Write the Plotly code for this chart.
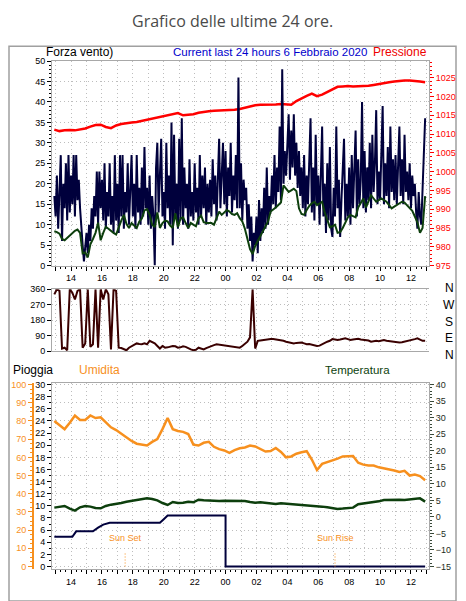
import pandas as pd
import plotly.graph_objects as go

W, H = 466, 601


def px(x):
    return x / W


def py(y):
    return 1 - y / H


START = "2020-02-05 12:55"
END = "2020-02-06 12:55"

# Wind gust (km/h), 5-minute samples 12:55 -> 12:55
gust = [
    17, 12, 22, 9, 18, 27, 6, 20, 14, 25, 11, 27,
    13, 22, 15, 27, 12, 27, 16, 21, 14, 8, 5, 1,
    4, 8, 3, 10, 6, 14, 9, 17, 12, 23, 10, 23,
    14, 21, 11, 25, 9, 18, 12, 25, 10, 17, 8, 27,
    11, 20, 8, 27, 12, 27, 9, 18, 13, 25, 10, 19,
    27, 12, 20, 9, 27, 13, 19, 10, 24, 12, 29, 14,
    19, 10, 22, 9, 17, 12, 0, 24, 30, 13, 20, 31,
    12, 18, 9, 30, 14, 22, 10, 35, 5, 32, 12, 20,
    9, 31, 11, 36, 10, 24, 14, 20, 9, 26, 12, 18,
    11, 25, 13, 19, 10, 27, 12, 22, 14, 24, 10, 20,
    13, 21, 12, 26, 15, 22, 11, 19, 31, 14, 25, 30,
    15, 28, 12, 24, 17, 30, 13, 22, 16, 27, 14, 46,
    14, 25, 11, 21, 16, 19, 9, 15, 6, 12, 1, 8,
    5, 12, 3, 16, 6, 14, 8, 19, 9, 24, 10, 17,
    13, 22, 15, 27, 14, 24, 18, 34, 16, 48, 20, 28,
    22, 30, 37, 21, 33, 24, 37, 22, 30, 19, 28, 17,
    24, 14, 27, 12, 22, 15, 25, 36, 13, 24, 11, 32,
    15, 22, 10, 26, 34, 12, 20, 8, 25, 11, 29, 9,
    7, 19, 12, 34, 14, 21, 7, 16, 26, 31, 11, 20,
    12, 24, 10, 27, 14, 22, 33, 12, 26, 15, 21, 40,
    14, 28, 13, 24, 16, 30, 14, 32, 18, 25, 38, 15,
    23, 16, 28, 39, 15, 25, 17, 29, 14, 34, 18, 26,
    16, 27, 15, 24, 34, 17, 26, 15, 32, 18, 23, 16,
    25, 14, 22, 17, 20, 13, 9, 18, 12, 10, 19, 28,
    36,
]

# Average wind (km/h), 10-minute samples
wind_avg = [
    8.4, 8.2, 7.8, 6.5, 6.2, 6.8, 7.4, 8.0, 8.5, 8.8, 8.0, 3.0,
    3.2, 2.0, 5.2, 6.5, 8.0, 10.5, 6.2, 8.0, 9.5, 9.0, 8.4, 8.0,
    7.6, 9.5, 11.0, 12.4, 10.2, 9.2, 10.4, 9.8, 9.2, 10.8, 11.5, 13.5,
    13.8, 12.4, 10.0, 9.4, 13.0, 9.2, 10.4, 11.0, 10.8, 9.8, 9.2, 12.8,
    9.4, 11.5, 11.8, 10.4, 9.2, 10.4, 10.0, 9.6, 11.5, 12.2, 10.6, 10.4,
    10.4, 10.4, 10.0, 11.8, 13.2, 12.4, 13.0, 13.6, 13.2, 12.6, 12.4, 12.8,
    11.6, 10.8, 9.0, 6.5, 4.0, 2.8, 4.8, 6.0, 7.2, 8.4, 9.6, 10.8,
    13.2, 13.6, 14.2, 14.8, 15.4, 19.6, 18.8, 18.0, 18.4, 18.8, 18.2, 14.0,
    12.6, 12.4, 13.6, 14.6, 15.2, 15.6, 14.8, 15.2, 15.6, 13.0, 11.4, 9.4,
    9.6, 10.0, 8.0, 8.2, 9.2, 10.4, 11.8, 12.4, 12.0, 11.8, 14.2, 15.4,
    16.4, 14.2, 15.6, 17.2, 16.4, 15.6, 16.0, 16.4, 16.0, 15.6, 14.8, 14.0,
    14.4, 14.8, 15.2, 15.6, 15.4, 14.8, 14.2, 13.4, 12.0, 10.6, 8.0, 9.2,
    17.0,
]

# Pressure (hPa), 20-minute samples
pressure = [
    1011.2, 1010.8, 1011.0, 1011.1, 1011.0, 1011.2, 1011.5, 1012.0, 1012.4, 1012.5, 1011.9, 1011.6,
    1012.3, 1012.7, 1013.0, 1013.1, 1013.2, 1013.5, 1013.8, 1014.1, 1014.4, 1014.6, 1015.0, 1015.2,
    1015.6, 1015.0, 1015.1, 1015.3, 1015.7, 1016.0, 1016.1, 1016.2, 1016.3, 1016.3, 1016.3, 1016.5,
    1016.7, 1017.1, 1017.5, 1017.7, 1017.8, 1017.8, 1017.7, 1017.9, 1018.0, 1017.9, 1017.8, 1018.8,
    1019.6, 1020.2, 1020.8, 1020.1, 1020.5, 1021.2, 1021.9, 1022.6, 1022.7, 1022.8, 1022.7, 1022.7,
    1022.8, 1022.9, 1023.1, 1023.4, 1023.6, 1023.8, 1024.0, 1024.2, 1024.3, 1024.3, 1024.2, 1024.0,
    1023.8,
]

# Wind direction (degrees), 10-minute samples
direction = [
    330, 360, 350, 15, 20, 5, 360, 340, 300, 350, 360, 20,
    45, 360, 25, 40, 360, 20, 360, 300, 360, 330, 10, 360,
    350, 20, 18, 12, 5, 20, 30, 38, 45, 42, 40, 45,
    40, 60, 52, 45, 30, 15, 30, 20, 22, 25, 30, 28,
    20, 22, 28, 25, 15, 10, 5, 8, 20, 15, 10, 18,
    25, 30, 35, 40, 38, 35, 32, 30, 28, 25, 22, 20,
    20, 30, 40, 55, 80, 360, 15, 60, 62, 65, 66, 68,
    70, 70, 68, 65, 62, 60, 55, 52, 48, 45, 48, 50,
    50, 45, 40, 42, 38, 35, 30, 32, 40, 50, 55, 60,
    70, 68, 65, 68, 72, 75, 70, 65, 68, 70, 72, 68,
    66, 65, 62, 55, 58, 60, 58, 62, 65, 60, 58, 55,
    55, 52, 50, 52, 55, 58, 62, 65, 70, 75, 65, 60,
    60,
]

# Humidity (%), 20-minute samples
humidity = [
    80, 77.5, 75.5, 79, 83, 80.5, 80.5, 83, 81.6, 82, 79, 76.5,
    75, 73, 70.5, 69, 67.5, 67, 66.5, 68.5, 70, 75.5, 81.6, 75.5,
    74.5, 74, 72.8, 67, 66.5, 68, 68.5, 65.8, 64.5, 63.8, 62.5, 64,
    65, 65.4, 66.5, 66, 64.8, 63.2, 63.5, 65.2, 63, 60, 60.5, 62,
    62.8, 63.4, 58.8, 53, 56.4, 57.3, 58.3, 59.3, 60.5, 60.4, 60.7, 57,
    56, 55.5, 55.5, 54.5, 54, 53.5, 52.8, 52, 52.6, 50, 50.5, 49.7,
    47.4,
]

# Temperature (C), 20-minute samples
temperature = [
    2.8, 3.0, 3.3, 2.5, 1.9, 2.9, 3.3, 3.1, 2.7, 2.6, 3.3, 3.7,
    3.9, 4.2, 4.6, 4.8, 5.1, 5.4, 5.6, 5.4, 5.0, 4.2, 3.6, 4.5,
    4.2, 4.3, 4.6, 4.4, 5.2, 5.0, 4.9, 4.9, 4.8, 4.9, 4.9, 4.8,
    4.8, 4.8, 4.5, 4.3, 4.4, 4.3, 4.0, 3.9, 4.1, 4.0, 3.9, 3.8,
    3.6, 3.5, 3.4, 3.3, 3.1, 2.9, 2.6, 2.4, 2.5, 2.6, 2.8, 3.8,
    4.0, 4.2, 4.4, 4.7, 5.1, 5.2, 5.3, 5.2, 5.1, 5.3, 5.4, 5.6,
    4.6,
]

# Rain (mm, daily accumulation)
rain_times = [
    "2020-02-05 12:55", "2020-02-05 14:05", "2020-02-05 14:20", "2020-02-05 15:25",
    "2020-02-05 15:45", "2020-02-05 16:05", "2020-02-05 16:30", "2020-02-05 19:45",
    "2020-02-05 20:00", "2020-02-05 20:15", "2020-02-06 00:00", "2020-02-06 00:00",
    "2020-02-06 12:55",
]
rain_mm = [4.9, 4.9, 5.8, 5.8, 6.4, 6.9, 7.2, 7.2, 7.8, 8.4, 8.4, 0, 0]

sun_set = "2020-02-05 17:30"
sun_rise = "2020-02-06 07:05"

compass_labels = ["N", "W", "S", "E", "N"]
dir_ticks = [0, 90, 180, 270, 360]

t5 = pd.date_range(START, END, freq="5min")
t10 = pd.date_range(START, END, freq="10min")
t20 = pd.date_range(START, END, freq="20min")
assert len(gust) == len(t5), len(gust)
assert len(wind_avg) == len(t10), len(wind_avg)
assert len(direction) == len(t10), len(direction)
assert len(pressure) == len(t20), len(pressure)
assert len(humidity) == len(t20), len(humidity)
assert len(temperature) == len(t20), len(temperature)

hour_ticks = pd.date_range("2020-02-05 13:00", "2020-02-06 13:00", freq="h")
hour_text = [f"{t.hour:02d}" if t.hour % 2 == 0 else "" for t in hour_ticks]

X_RANGE = ["2020-02-05 12:46", "2020-02-06 13:10"]
X_DOM = [px(52), px(429)]


def rng(v_a, y_a, v_b, y_b, y_top, y_bot):
    s = (v_b - v_a) / (y_b - y_a)
    return [v_a + (y_bot - y_a) * s, v_a + (y_top - y_a) * s]


FONT = "Liberation Sans, Arial, sans-serif"
GRID = "#bdbdbd"
ORANGE = "#f7901e"
DKGREEN = "#0d3f0d"
NAVY = "#00003c"

fig = go.Figure()

# ---- top panel: pressure (base axis, right), wind (overlay, left)
fig.add_trace(go.Scatter(x=t20, y=pressure, mode="lines", xaxis="x", yaxis="y",
                         line=dict(color="#ff0000", width=2.5), hoverinfo="skip"))
fig.add_trace(go.Scatter(x=t5, y=gust, mode="lines", xaxis="x", yaxis="y2",
                         line=dict(color=NAVY, width=2), hoverinfo="skip"))
fig.add_trace(go.Scatter(x=t10, y=wind_avg, mode="lines", xaxis="x", yaxis="y2",
                         line=dict(color=DKGREEN, width=2), hoverinfo="skip"))

# ---- middle panel: direction
fig.add_trace(go.Scatter(x=t10, y=direction, mode="lines", xaxis="x2", yaxis="y3",
                         line=dict(color="#3a0000", width=2), hoverinfo="skip"))

# ---- bottom panel
fig.add_trace(go.Scatter(x=rain_times, y=rain_mm, mode="lines", xaxis="x3", yaxis="y4",
                         line=dict(color=NAVY, width=2), hoverinfo="skip"))
for t in (sun_set, sun_rise):
    fig.add_trace(go.Scatter(x=[t, t], y=[0, 2.3], mode="lines", xaxis="x3", yaxis="y4",
                             line=dict(color=ORANGE, width=1, dash="1px,2px"), hoverinfo="skip"))
fig.add_trace(go.Scatter(x=t20, y=humidity, mode="lines", xaxis="x3", yaxis="y5",
                         line=dict(color=ORANGE, width=2.5), hoverinfo="skip"))
fig.add_trace(go.Scatter(x=t20, y=temperature, mode="lines", xaxis="x3", yaxis="y6",
                         line=dict(color=DKGREEN, width=2.5), hoverinfo="skip"))


def xaxis(anchor, labels=True):
    return dict(
        domain=X_DOM, range=X_RANGE, type="date", anchor=anchor,
        tickmode="array", tickvals=list(hour_ticks), ticktext=hour_text if labels else [""] * len(hour_text),
        showticklabels=labels,
        ticks="outside" if labels else "", ticklen=4, tickcolor="#000",
        minor=dict(dtick=20 * 60 * 1000, ticks="outside" if labels else "", ticklen=2, tickcolor="#000",
                   showgrid=False),
        showgrid=True, gridcolor=GRID, griddash="1px,3px", gridwidth=1,
        showline=True, linecolor="#a8a8a8", mirror=True, zeroline=False,
        tickfont=dict(size=9, color="#000", family=FONT),
    )


top_dom = [py(265), py(57)]
mid_dom = [py(352), py(289)]
bot_dom = [py(574), py(384)]

layout = dict(
    width=W, height=H, autosize=False,
    margin=dict(l=0, r=0, t=0, b=0),
    paper_bgcolor="white", plot_bgcolor="white",
    showlegend=False,
    font=dict(family=FONT, size=9, color="#000"),
    xaxis=xaxis("y"),
    xaxis2=xaxis("y3", labels=False),
    xaxis3=xaxis("y4"),
    yaxis=dict(domain=top_dom, anchor="x", side="right",
               range=rng(975, 265, 1025, 74, 57, 265),
               tickmode="linear", tick0=975, dtick=5,
               ticks="outside", ticklen=4, tickcolor="#ff0000",
               minor=dict(dtick=1, ticks="outside", ticklen=2, tickcolor="#ff0000"),
               showgrid=False, zeroline=False, showline=True, linecolor="#a8a8a8",
               tickfont=dict(size=9, color="#ff0000", family=FONT)),
    yaxis2=dict(domain=top_dom, anchor="x", overlaying="y", side="left",
                range=rng(0, 265, 50, 57, 57, 265),
                tickmode="linear", tick0=0, dtick=5,
                ticks="outside", ticklen=4, tickcolor="#000",
                minor=dict(dtick=1, ticks="outside", ticklen=2, tickcolor="#000"),
                showgrid=True, gridcolor=GRID, griddash="1px,3px",
                zeroline=False, showline=True, linecolor="#a8a8a8",
                tickfont=dict(size=9, color="#000", family=FONT)),
    yaxis3=dict(domain=mid_dom, anchor="x2", range=[0, 360],
                tickmode="array", tickvals=dir_ticks,
                ticks="outside", ticklen=4, tickcolor="#000",
                showgrid=True, gridcolor=GRID, griddash="1px,3px",
                zeroline=False, showline=True, linecolor="#a8a8a8",
                tickfont=dict(size=9, color="#000", family=FONT)),
    yaxis4=dict(domain=bot_dom, anchor="x3", side="left",
                range=rng(0, 571, 30, 386, 384, 574),
                tickmode="linear", tick0=0, dtick=2,
                ticks="outside", ticklen=4, tickcolor="#000",
                minor=dict(dtick=1, ticks="outside", ticklen=2, tickcolor="#000"),
                showgrid=False, zeroline=False, showline=True, linecolor="#a8a8a8",
                tickfont=dict(size=9, color="#000", family=FONT)),
    yaxis5=dict(overlaying="y4", anchor="free", position=px(33), side="left",
                range=rng(0, 571, 100, 386, 384, 574),
                tickmode="linear", tick0=0, dtick=10,
                ticks="outside", ticklen=4, tickcolor=ORANGE,
                minor=dict(dtick=2.5, ticks="outside", ticklen=2, tickcolor=ORANGE),
                showgrid=True, gridcolor=GRID, griddash="1px,3px",
                zeroline=False, showline=True, linecolor=ORANGE, linewidth=2,
                tickfont=dict(size=9, color=ORANGE, family=FONT)),
    yaxis6=dict(overlaying="y4", anchor="x3", side="right",
                range=rng(-15, 571, 40, 386, 384, 574),
                tickmode="linear", tick0=-15, dtick=5,
                ticks="outside", ticklen=4, tickcolor="#3a4a3a",
                minor=dict(dtick=1, ticks="outside", ticklen=2, tickcolor="#3a4a3a"),
                showgrid=False, zeroline=False, showline=True, linecolor="#a8a8a8",
                tickfont=dict(size=9, color="#1d2d1d", family=FONT)),
)
fig.update_layout(**layout)

ann = []
ann.append(dict(text="Grafico delle ultime 24 ore.", x=px(232), y=py(16), xref="paper", yref="paper",
                showarrow=False, xanchor="center", yanchor="middle",
                font=dict(family="Open Sans, sans-serif", size=16, color="#4a4a4a")))
ann.append(dict(text="Forza vento)", x=px(44), y=py(48), xref="paper", yref="paper", showarrow=False,
                xanchor="left", yanchor="middle", font=dict(size=12, color="#000")))
ann.append(dict(text="Current last 24 hours 6 Febbraio 2020", x=px(270), y=py(48), xref="paper",
                yref="paper", showarrow=False, xanchor="center", yanchor="middle",
                font=dict(size=11.5, color="#0000cc")))
ann.append(dict(text="Pressione", x=px(429), y=py(48), xref="paper", yref="paper", showarrow=False,
                xanchor="right", yanchor="middle", font=dict(size=12, color="#ee0000")))
for i, lab in enumerate(compass_labels):
    ann.append(dict(text=lab, x=px(449), y=py(288 + 17 * i), xref="paper", yref="paper",
                    showarrow=False, xanchor="center", yanchor="middle",
                    font=dict(size=12, color="#000")))
ann.append(dict(text="Pioggia", x=px(11), y=py(371), xref="paper", yref="paper", showarrow=False,
                xanchor="left", yanchor="middle", font=dict(size=12, color="#000")))
ann.append(dict(text="Umidita", x=px(77), y=py(371), xref="paper", yref="paper", showarrow=False,
                xanchor="left", yanchor="middle", font=dict(size=12, color=ORANGE)))
ann.append(dict(text="Temperatura", x=px(323), y=py(371), xref="paper", yref="paper",
                showarrow=False, xanchor="left", yanchor="middle",
                font=dict(size=11.5, color=DKGREEN)))
for t, lab in ((sun_set, "Sun Set"), (sun_rise, "Sun Rise")):
    ann.append(dict(text=lab, x=t, y=py(542), xref="x3", yref="paper", showarrow=False,
                    xanchor="center", yanchor="middle", font=dict(size=9, color=ORANGE)))
fig.update_layout(annotations=ann)

fig.add_shape(type="rect", xref="paper", yref="paper", x0=px(9), x1=px(456), y0=py(606), y1=py(42),
              line=dict(color="#a0a0a0", width=1.5), fillcolor="rgba(0,0,0,0)", layer="below")

fig.write_html("out.html", config={"displayModeBar": False},
               post_script="document.body.style.margin='0';document.body.style.overflow='hidden';")
